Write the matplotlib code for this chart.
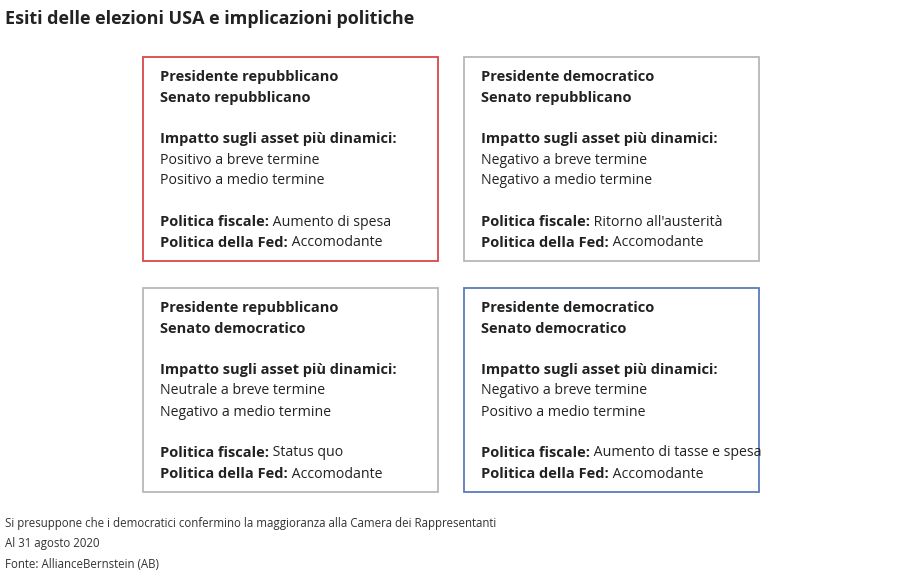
import matplotlib
matplotlib.use("Agg")
import matplotlib.pyplot as plt
from matplotlib.patches import Rectangle

title = "Esiti delle elezioni USA e implicazioni politiche"
presidents = ["Presidente repubblicano", "Presidente democratico", "Presidente repubblicano", "Presidente democratico"]
senates = ["Senato repubblicano", "Senato repubblicano", "Senato democratico", "Senato democratico"]
short_term = ["Positivo a breve termine", "Negativo a breve termine", "Neutrale a breve termine", "Negativo a breve termine"]
mid_term = ["Positivo a medio termine", "Negativo a medio termine", "Negativo a medio termine", "Positivo a medio termine"]
fiscal = ["Aumento di spesa", "Ritorno all'austerità", "Status quo", "Aumento di tasse e spesa"]
fed = ["Accomodante", "Accomodante", "Accomodante", "Accomodante"]
footnotes = ["Si presuppone che i democratici confermino la maggioranza alla Camera dei Rappresentanti",
             "Al 31 agosto 2020", "Fonte: AllianceBernstein (AB)"]
edge_colors = ["#d9484a", "#b8b8b8", "#b8b8b8", "#5b7bbd"]

FONT = "Open Sans"
fig = plt.figure(figsize=(9, 5.72), dpi=100)
ax = fig.add_axes([0, 0, 1, 1])
ax.set_xlim(0, 900); ax.set_ylim(572, 0); ax.axis("off")

ax.text(5, 19, title, fontsize=13, fontweight="bold", family=FONT, va="center", color="#222")

boxes = [(143, 57), (464, 57), (143, 288), (464, 288)]
fs = 10.5
fsn = 10.2
for i, (x0, y0) in enumerate(boxes):
    ax.add_patch(Rectangle((x0, y0), 295, 204, fill=False, edgecolor=edge_colors[i], lw=1.3))
    tx = x0 + 17
    def t(dy, s, bold=False):
        return ax.text(tx, y0 + dy + 2, s, fontsize=fs if bold else fsn, family=FONT, va="center",
                       color="#222", fontweight="bold" if bold else "normal")
    t(18, presidents[i], True)
    t(39, senates[i], True)
    t(80, "Impatto sugli asset più dinamici:", True)
    t(101, short_term[i])
    t(122, mid_term[i])
    for dy, lab, val in [(163, "Politica fiscale:", fiscal[i]), (184, "Politica della Fed:", fed[i])]:
        b = t(dy, lab, True)
        ax.annotate(" " + val, xy=(1, 0.5), xycoords=b, va="center", ha="left",
                    fontsize=fsn, family=FONT, color="#222")

for k, s in enumerate(footnotes):
    ax.text(5, 523 + 20.5 * k, s, fontsize=8.3, family=FONT, va="center", color="#333")

fig.savefig("out.png", dpi=100)
